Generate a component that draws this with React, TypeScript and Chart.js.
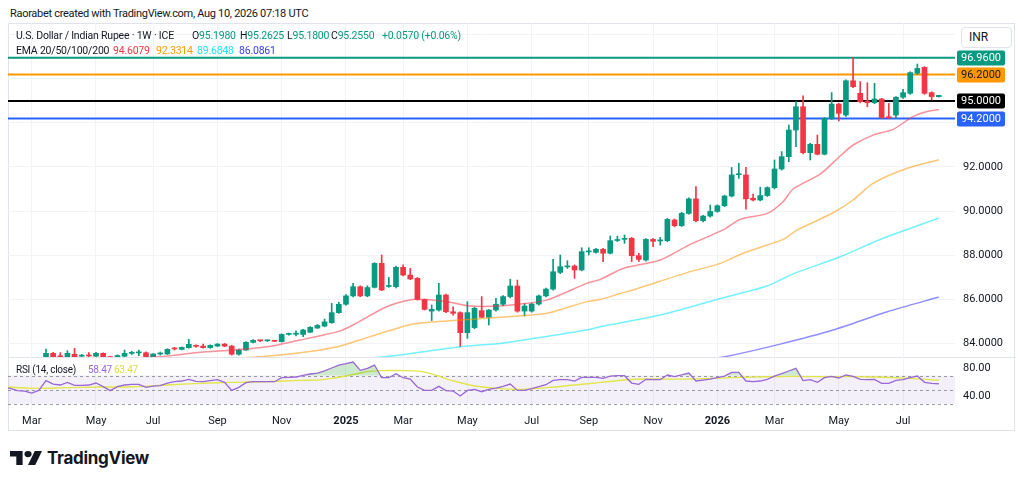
import React, { useEffect, useRef } from "react";
import { Chart, registerables } from "chart.js";

Chart.register(...registerables);

// ---------------- data ----------------
const START_DATE = "2024-02-05"; // first weekly bar (Monday)

const opens = [
  83.0, 82.98, 82.9, 82.88, 82.8, 82.75, 83.0, 83.53, 83.42, 83.37,
  83.49, 83.4, 83.43, 83.4, 83.53, 83.38, 83.28, 83.4, 83.53, 83.55,
  83.56, 83.38, 83.5, 83.5, 83.75, 83.71, 83.79, 83.87, 83.86, 83.79,
  83.86, 83.95, 83.86, 83.49, 83.68, 84.03, 84.11, 84.1, 84.1, 84.06,
  84.39, 84.4, 84.39, 84.49, 84.68, 84.77, 84.92, 85.38, 85.76, 86.14,
  86.56, 86.14, 86.53, 87.62, 86.57, 86.56, 87.44, 87.09, 86.94, 85.98,
  85.45, 85.5, 86.18, 85.42, 85.38, 84.47, 84.7, 85.47, 85.17, 85.5,
  85.76, 86.11, 86.59, 85.45, 85.45, 85.77, 86.14, 86.45, 87.21, 87.46,
  87.5, 87.32, 88.14, 88.12, 88.26, 88.08, 88.66, 88.71, 88.76, 87.97,
  87.77, 88.71, 88.64, 88.65, 89.59, 89.33, 89.89, 90.55, 89.56, 89.77,
  89.98, 90.24, 90.68, 91.65, 91.64, 90.58, 90.5, 90.7, 91.06, 91.91,
  92.47, 93.68, 94.74, 92.65, 93.03, 92.58, 94.21, 94.86, 94.36, 95.92,
  95.35, 95.0, 94.92, 95.09, 94.28, 94.36, 95.17, 95.35, 96.26, 96.53,
  95.38, 95.198,
];
const highs = [
  83.1, 83.05, 83.0, 82.95, 82.95, 83.05, 83.72, 83.58, 83.56, 83.65,
  83.76, 83.48, 83.56, 83.58, 83.55, 83.4, 83.46, 83.68, 83.62, 83.68,
  83.6, 83.52, 83.59, 83.74, 83.8, 83.82, 84.17, 83.92, 83.95, 83.92,
  83.98, 83.98, 83.9, 83.72, 84.06, 84.16, 84.13, 84.14, 84.12, 84.42,
  84.45, 84.55, 84.62, 84.75, 84.84, 85.09, 85.8, 85.85, 86.2, 86.71,
  86.6, 86.6, 87.65, 88.0, 86.98, 87.5, 87.55, 87.39, 86.98, 86.0,
  85.73, 86.71, 86.22, 85.65, 85.42, 85.88, 85.62, 86.11, 85.52, 86.03,
  86.15, 86.9, 86.86, 85.8, 85.82, 86.18, 86.5, 87.8, 88.0, 87.74,
  87.55, 88.33, 88.33, 88.3, 88.3, 88.86, 88.86, 88.91, 88.8, 88.08,
  88.75, 88.75, 88.8, 89.66, 89.64, 89.94, 90.6, 91.11, 89.8, 90.27,
  90.28, 90.72, 91.98, 92.17, 91.98, 90.77, 91.08, 91.1, 92.32, 92.7,
  93.91, 94.97, 95.23, 93.08, 93.45, 94.25, 95.38, 94.9, 95.96, 96.98,
  95.88, 95.83, 95.8, 95.12, 94.89, 95.2, 95.53, 96.33, 96.68, 96.56,
  95.42, 95.2625,
];
const lows = [
  82.9, 82.85, 82.78, 82.75, 82.7, 82.7, 82.95, 83.3, 83.3, 83.3,
  83.3, 83.35, 83.35, 83.35, 83.3, 83.2, 83.25, 83.35, 83.48, 83.42,
  83.35, 83.35, 83.45, 83.48, 83.68, 83.69, 83.77, 83.8, 83.76, 83.76,
  83.84, 83.83, 83.45, 83.45, 83.66, 84.0, 84.06, 84.07, 84.06, 84.04,
  84.36, 84.32, 84.29, 84.47, 84.66, 84.74, 84.9, 85.35, 85.72, 86.1,
  86.1, 86.1, 86.5, 86.38, 86.53, 86.5, 87.05, 86.88, 85.95, 85.5,
  85.02, 85.45, 85.38, 85.27, 83.83, 84.21, 84.65, 85.15, 84.82, 85.45,
  85.7, 86.05, 85.4, 85.23, 85.4, 85.72, 86.1, 86.4, 87.15, 87.39,
  86.94, 87.28, 88.0, 88.08, 87.7, 88.05, 88.61, 88.53, 87.7, 87.7,
  87.72, 88.38, 88.45, 88.6, 89.28, 89.3, 89.85, 89.5, 89.5, 89.72,
  89.94, 90.2, 90.64, 91.48, 90.08, 90.46, 90.46, 90.66, 91.0, 91.86,
  92.24, 92.92, 92.6, 92.32, 92.55, 92.55, 94.15, 94.09, 94.3, 95.6,
  94.92, 94.74, 94.88, 94.2, 94.2, 94.2, 95.12, 95.3, 96.2, 95.3,
  95.05, 95.18,
];
const closes = [
  82.98, 82.9, 82.85, 82.8, 82.75, 82.95, 83.53, 83.35, 83.37, 83.53,
  83.38, 83.43, 83.41, 83.53, 83.38, 83.25, 83.43, 83.53, 83.56, 83.57,
  83.38, 83.5, 83.53, 83.71, 83.73, 83.8, 83.94, 83.85, 83.79, 83.89,
  83.95, 83.86, 83.49, 83.68, 84.03, 84.12, 84.1, 84.11, 84.08, 84.39,
  84.41, 84.42, 84.59, 84.71, 84.8, 84.96, 85.38, 85.76, 86.14, 86.56,
  86.14, 86.52, 87.62, 86.41, 86.59, 87.44, 87.09, 86.91, 85.98, 85.53,
  85.53, 86.18, 85.42, 85.35, 84.47, 85.38, 85.58, 85.17, 85.5, 85.76,
  86.11, 86.59, 85.45, 85.68, 85.77, 86.14, 86.45, 87.24, 87.47, 87.48,
  87.32, 88.15, 88.16, 88.26, 88.08, 88.65, 88.68, 88.73, 87.97, 87.8,
  88.71, 88.62, 88.66, 89.62, 89.33, 89.89, 90.55, 89.56, 89.77, 89.98,
  90.24, 90.68, 91.64, 91.67, 90.55, 90.5, 90.7, 91.06, 91.91, 92.47,
  93.68, 94.74, 92.65, 93.03, 92.58, 94.21, 94.86, 94.44, 95.92, 95.65,
  94.97, 94.92, 95.09, 94.24, 94.24, 95.17, 95.38, 96.29, 96.48, 95.35,
  95.2, 95.255,
];

// EMA readings: [week index, value]
const ema20 = [
  [15, 83.28], [22, 83.38], [27.6, 83.58], [32.2, 83.68], [37, 83.83], [41.6, 84.14],
  [44.4, 84.33], [47.2, 84.55], [49, 84.82], [53.7, 85.65], [57.4, 85.98], [62.1, 85.88],
  [65.4, 85.68], [69.6, 85.68], [72.4, 85.77], [76.1, 85.95], [81.7, 86.71], [83.6, 86.89],
  [86.8, 87.39], [92, 87.77], [96.2, 88.48], [100.8, 89.14], [103.2, 89.62], [107, 89.89],
  [109.2, 90.42], [110.6, 91.0], [114.4, 91.68], [117.2, 92.5], [119, 93.0], [121.8, 93.45],
  [124.6, 93.71], [127.4, 94.29], [129.4, 94.52], [131, 94.61],
];
const ema50 = [
  [30, 83.28], [36, 83.38], [41.6, 83.56], [44.4, 83.68], [47.2, 83.86], [51.4, 84.29],
  [57.4, 84.86], [63, 85.02], [69.6, 85.17], [76.1, 85.35], [81.7, 85.88], [83.6, 85.98],
  [86.4, 86.25], [88.2, 86.41], [95.75, 87.2], [100.4, 87.62], [103.6, 88.08], [109.2, 88.71],
  [111.2, 89.14], [116.2, 89.92], [119, 90.5], [121.8, 91.26], [126.6, 91.94], [131, 92.33],
];
const ema100 = [
  [50, 83.28], [54.4, 83.41], [64, 83.83], [69.6, 83.98], [74.2, 84.2], [81.7, 84.59],
  [83.6, 84.74], [92, 85.27], [99.95, 85.98], [106.95, 86.59], [110.6, 87.14], [117.2, 87.92],
  [123.2, 88.76], [131, 89.68],
];
const ema200 = [
  [98, 83.25], [101.1, 83.38], [108.8, 83.95], [116.2, 84.59], [123.8, 85.42], [131, 86.09],
];
const emaLast = [94.6079, 92.3314, 89.6848, 86.0861];

const rsiValues = [
  53.0, 51.9, 48.6, 48.1, 45.2, 49.0, 62.9, 58.1, 56.7, 60.5,
  56.2, 56.2, 56.7, 59.5, 54.3, 48.6, 54.3, 56.7, 57.6, 57.6,
  53.3, 55.2, 55.7, 59.5, 61.4, 62.4, 64.8, 61.9, 61.4, 62.9,
  64.3, 60.5, 49.0, 53.3, 60.0, 61.4, 61.4, 61.4, 61.4, 67.1,
  67.6, 68.1, 70.5, 72.4, 73.8, 77.0, 81.0, 85.2, 87.1, 89.5,
  77.6, 80.5, 85.2, 67.1, 67.1, 72.9, 67.1, 65.2, 53.8, 49.0,
  49.0, 54.8, 48.6, 48.1, 41.0, 49.0, 50.5, 47.1, 50.5, 52.4,
  54.8, 58.1, 49.0, 49.0, 51.4, 54.3, 57.1, 63.3, 64.3, 64.3,
  62.4, 67.6, 67.6, 67.6, 66.2, 69.5, 70.0, 70.0, 59.5, 57.6,
  64.8, 64.3, 64.3, 71.0, 68.6, 71.0, 73.8, 62.4, 63.8, 65.2,
  67.1, 69.5, 74.8, 74.8, 62.4, 61.4, 62.4, 64.8, 69.5, 72.9,
  76.7, 80.5, 62.9, 64.3, 60.5, 67.1, 69.0, 66.7, 71.0, 69.0,
  64.8, 64.3, 64.8, 59.0, 59.0, 63.3, 64.3, 67.1, 69.5, 60.5,
  59.0, 58.47,
];
const rsiMa = [
  [0, 54.3], [4.2, 51.9], [8.9, 52.9], [13.6, 53.8], [18.2, 54.3], [22.9, 56.7],
  [27.6, 59.0], [32.3, 60.5], [36.9, 61.4], [41.6, 63.3], [44.4, 64.0], [46.5, 67.0],
  [48, 69.5], [50.9, 75.7], [53, 77.3], [56, 77.3], [58.3, 76.5], [60.2, 71.9],
  [63.1, 62.4], [65.9, 55.7], [69.2, 51.9], [72.5, 50.5], [76.2, 52.9], [80, 56.7],
  [83.7, 60.5], [87.4, 64.3], [90.7, 65.2], [96.7, 65.2], [103.3, 67.6], [110.3, 69.0],
  [112.6, 68.6], [118.3, 68.6], [122, 68.1], [126.7, 66.2], [131, 63.47],
];
const rsiLevels = [70, 50, 30];

const levels = [96.96, 96.2, 95.0, 94.2];
const priceTicks = [84, 86, 88, 90, 92, 94, 96, 98];
const rsiTicks = [40, 80];

const monthTickDates = [
  "2024-03-04", "2024-05-06", "2024-07-01", "2024-09-02", "2024-11-04", "2025-01-06",
  "2025-03-03", "2025-05-05", "2025-07-07", "2025-09-01", "2025-11-03", "2026-01-05",
  "2026-03-02", "2026-05-04", "2026-07-06",
];
const monthTickLabels = [
  "Mar", "May", "Jul", "Sep", "Nov", "2025", "Mar", "May", "Jul", "Sep", "Nov", "2026",
  "Mar", "May", "Jul",
];

// ---------------- styling ----------------
const FONT = "Roboto, 'Noto Sans', sans-serif";
const TXT = "#131722";
const UP = "#089981";
const DOWN = "#f23645";
const GRID = "#f2f3f6";
const RSI_COLOR = "#9a67d4";
const MA_COLOR = "#e2e64a";
const levelColors = ["#089981", "#ff9800", "#000000", "#2962ff"];
const levelText = ["#ffffff", "#131722", "#ffffff", "#ffffff"];
const emaLineColors = [
  "rgba(242,54,69,0.55)",
  "rgba(255,152,0,0.55)",
  "rgba(0,229,255,0.55)",
  "rgba(50,50,255,0.55)",
];
const emaTextColors = ["#f23645", "#ff9800", "#20e3f5", "#3a3aff"];

const X_MIN = 0.68;
const X_MAX = 133.27;
const Y_MIN = 83.364;
const Y_MAX = 98.545;
const RSI_MIN = 21;
const RSI_MAX = 96.7;

const WEEK = 7 * 24 * 3600 * 1000;
const weekIndex = (d: string) =>
  Math.round((Date.parse(d) - Date.parse(START_DATE)) / WEEK);
const monthTickIdx = monthTickDates.map(weekIndex);
const labelFor = (v: number) => {
  const k = monthTickIdx.indexOf(Math.round(v));
  return k >= 0 ? monthTickLabels[k] : "";
};

const zeroPad = (s: any) => {
  s.paddingTop = 0;
  s.paddingBottom = 0;
  s.paddingLeft = 0;
  s.paddingRight = 0;
};

const levelLabelPlugin = {
  id: "levelLabels",
  afterDraw(chart: any) {
    const { ctx, chartArea, scales } = chart;
    ctx.save();
    levels.forEach((lv, k) => {
      const y = Math.round(scales.y.getPixelForValue(lv));
      const x = chartArea.right + 2;
      ctx.fillStyle = levelColors[k];
      ctx.beginPath();
      ctx.roundRect(x, y - 7.5, 48, 15, 2);
      ctx.fill();
      ctx.fillStyle = levelText[k];
      ctx.font = `11px ${FONT}`;
      ctx.textAlign = "center";
      ctx.textBaseline = "middle";
      ctx.fillText(lv.toFixed(4), x + 24, y + 0.5);
    });
    ctx.restore();
  },
};

const rsiBandPlugin = {
  id: "rsiBand",
  beforeDatasetsDraw(chart: any) {
    const { ctx, chartArea, scales } = chart;
    const y70 = scales.y.getPixelForValue(rsiLevels[0]);
    const y30 = scales.y.getPixelForValue(rsiLevels[2]);
    ctx.save();
    ctx.fillStyle = "rgba(126,87,194,0.09)";
    ctx.fillRect(chartArea.left, y70, chartArea.right - chartArea.left, y30 - y70);
    ctx.strokeStyle = "rgba(120,123,134,0.75)";
    ctx.lineWidth = 1;
    ctx.setLineDash([3, 3]);
    rsiLevels.forEach((lv) => {
      const y = Math.round(scales.y.getPixelForValue(lv)) + 0.5;
      ctx.beginPath();
      ctx.moveTo(chartArea.left, y);
      ctx.lineTo(chartArea.right, y);
      ctx.stroke();
    });
    ctx.restore();
  },
};

function mainConfig(): any {
  const idx = closes.map((_, i) => i);
  const col = idx.map((i) => (closes[i] >= opens[i] ? UP : DOWN));
  const emas = [ema20, ema50, ema100, ema200];
  return {
    type: "bar",
    data: {
      datasets: [
        ...emas.map((e, k) => ({
          type: "line",
          data: e.map(([x, y]) => ({ x, y })),
          borderColor: emaLineColors[k],
          borderWidth: 1.5,
          pointRadius: 0,
          pointHoverRadius: 0,
          tension: 0.25,
        })),
        {
          type: "bar",
          data: idx.map((i) => ({ x: i, y: [opens[i], closes[i]] })),
          backgroundColor: col,
          barThickness: 5,
          minBarLength: 1,
          grouped: false,
        },
        {
          type: "bar",
          data: idx.map((i) => ({ x: i, y: [lows[i], highs[i]] })),
          backgroundColor: col,
          barThickness: 1,
          grouped: false,
        },
        ...levels.map((lv, k) => ({
          type: "line",
          data: [
            { x: X_MIN, y: lv },
            { x: X_MAX, y: lv },
          ],
          borderColor: levelColors[k],
          borderWidth: 2,
          pointRadius: 0,
          pointHoverRadius: 0,
        })),
      ],
    },
    options: {
      responsive: false,
      animation: false,
      events: [],
      layout: { padding: 0, autoPadding: false },
      plugins: { legend: { display: false }, tooltip: { enabled: false } },
      scales: {
        x: {
          type: "linear",
          min: X_MIN,
          max: X_MAX,
          offset: false,
          grid: { color: GRID, drawTicks: false, offset: false },
          border: { display: false },
          ticks: { display: false },
          afterBuildTicks: (s: any) => {
            s.ticks = monthTickIdx.map((v) => ({ value: v }));
          },
          afterFit: (s: any) => {
            s.height = 0;
            zeroPad(s);
          },
        },
        y: {
          position: "right",
          min: Y_MIN,
          max: Y_MAX,
          grid: { color: GRID, drawTicks: false },
          border: { display: false },
          ticks: {
            color: TXT,
            padding: 8,
            font: { family: FONT, size: 11 },
            callback: (v: any) => (Number(v) <= 92 ? Number(v).toFixed(4) : ""),
          },
          afterBuildTicks: (s: any) => {
            s.ticks = priceTicks.map((v) => ({ value: v }));
          },
          afterFit: (s: any) => {
            s.width = 61;
            zeroPad(s);
          },
        },
      },
    },
    plugins: [levelLabelPlugin],
  };
}

function rsiConfig(): any {
  const idx = rsiValues.map((_, i) => i);
  return {
    type: "line",
    data: {
      datasets: [
        {
          data: idx.map((i) => ({ x: i, y: rsiValues[i] })),
          borderColor: RSI_COLOR,
          borderWidth: 1.3,
          pointRadius: 0,
          pointHoverRadius: 0,
          fill: {
            target: { value: 70 },
            above: "rgba(76,175,80,0.28)",
            below: "rgba(0,0,0,0)",
          },
        },
        {
          data: rsiMa.map(([x, y]) => ({ x, y })),
          borderColor: MA_COLOR,
          borderWidth: 1.4,
          pointRadius: 0,
          pointHoverRadius: 0,
          tension: 0.3,
          fill: false,
        },
      ],
    },
    options: {
      responsive: false,
      animation: false,
      events: [],
      layout: { padding: 0, autoPadding: false },
      plugins: { legend: { display: false }, tooltip: { enabled: false } },
      scales: {
        x: {
          type: "linear",
          min: X_MIN,
          max: X_MAX,
          grid: { color: GRID, drawTicks: false },
          border: { display: false },
          ticks: {
            color: TXT,
            padding: 5,
            autoSkip: false,
            maxRotation: 0,
            font: (c: any) => ({
              family: FONT,
              size: 11,
              weight: /^\d{4}$/.test(labelFor(c.tick ? c.tick.value : -1)) ? "bold" : "normal",
            }),
            callback: (v: any) => labelFor(Number(v)),
          },
          afterBuildTicks: (s: any) => {
            s.ticks = monthTickIdx.map((v) => ({ value: v }));
          },
          afterFit: (s: any) => {
            s.height = 22;
            zeroPad(s);
          },
        },
        y: {
          position: "right",
          min: RSI_MIN,
          max: RSI_MAX,
          grid: { display: false, drawTicks: false },
          border: { display: false },
          ticks: {
            color: TXT,
            padding: 8,
            font: { family: FONT, size: 11 },
            callback: (v: any) => Number(v).toFixed(2),
          },
          afterBuildTicks: (s: any) => {
            s.ticks = rsiTicks.map((v) => ({ value: v }));
          },
          afterFit: (s: any) => {
            s.width = 61;
            zeroPad(s);
          },
        },
      },
    },
    plugins: [rsiBandPlugin],
  };
}

const abs = (left: number, top: number, extra: any = {}): React.CSSProperties => ({
  position: "absolute",
  left,
  top,
  whiteSpace: "nowrap",
  ...extra,
});

export default function App() {
  const mainRef = useRef<HTMLCanvasElement>(null);
  const rsiRef = useRef<HTMLCanvasElement>(null);

  useEffect(() => {
    const main = new Chart(mainRef.current as HTMLCanvasElement, mainConfig());
    const rsi = new Chart(rsiRef.current as HTMLCanvasElement, rsiConfig());
    return () => {
      main.destroy();
      rsi.destroy();
    };
  }, []);

  const leg: React.CSSProperties = {
    fontSize: 10.5,
    letterSpacing: -0.2,
    lineHeight: "16px",
    color: TXT,
  };
  const rsiLeg: React.CSSProperties = { ...leg, fontSize: 10, letterSpacing: -0.25 };
  const last = rsiValues[rsiValues.length - 1];
  const lastMa = rsiMa[rsiMa.length - 1][1];

  return (
    <div
      style={{
        position: "absolute",
        left: 0,
        top: 0,
        width: 1024,
        height: 484,
        background: "#ffffff",
        fontFamily: FONT,
        color: TXT,
        overflow: "hidden",
      }}
    >
      <div style={abs(10, 5, { fontSize: 11, letterSpacing: -0.3, lineHeight: "17px" })}>
        Raorabet created with TradingView.com, Aug 10, 2026 07:18 UTC
      </div>

      {/* chart frame */}
      <div
        style={abs(8, 23, {
          width: 1007,
          height: 408,
          border: "1px solid #e0e3eb",
          boxSizing: "border-box",
        })}
      />
      <canvas ref={mainRef} width={1008} height={334} style={abs(8, 23)} />
      <div style={abs(8, 357, { width: 1008, height: 1, background: "#e0e3eb" })} />
      <canvas ref={rsiRef} width={1008} height={75} style={abs(8, 357)} />

      {/* legend */}
      <div style={abs(16, 28, leg)}>U.S. Dollar / Indian Rupee · 1W · ICE</div>
      <div style={abs(192, 28, leg)}>
        O<span style={{ color: UP }}>{opens[opens.length - 1].toFixed(4)}</span>
      </div>
      <div style={abs(240, 28, leg)}>
        H<span style={{ color: UP }}>{highs[highs.length - 1].toFixed(4)}</span>
      </div>
      <div style={abs(287, 28, leg)}>
        L<span style={{ color: UP }}>{lows[lows.length - 1].toFixed(4)}</span>
      </div>
      <div style={abs(331, 28, leg)}>
        C<span style={{ color: UP }}>{closes[closes.length - 1].toFixed(4)}</span>
      </div>
      <div style={abs(382, 28, { ...leg, color: UP })}>+0.0570 (+0.06%)</div>

      <div style={abs(16, 43, leg)}>EMA 20/50/100/200</div>
      {emaLast.map((v, k) => (
        <div key={k} style={abs([113, 156, 197, 239][k], 43, { ...leg, color: emaTextColors[k] })}>
          {v.toFixed(4)}
        </div>
      ))}

      <div style={abs(16, 362, rsiLeg)}>RSI (14, close)</div>
      <div style={abs(88, 362, { ...rsiLeg, color: RSI_COLOR })}>{last.toFixed(2)}</div>
      <div style={abs(114, 362, { ...rsiLeg, color: "#d9dd3a" })}>{lastMa.toFixed(2)}</div>

      {/* currency box */}
      <div
        style={abs(961, 27, {
          width: 51,
          height: 21,
          border: "1px solid #e0e3eb",
          borderRadius: 4,
          boxSizing: "border-box",
          background: "#fff",
          fontSize: 12,
          lineHeight: "19px",
          paddingLeft: 7,
        })}
      >
        INR
      </div>

      {/* TradingView logo */}
      <svg
        style={abs(10, 451)}
        width={32}
        height={14}
        viewBox="0 4 35.5 18"
        preserveAspectRatio="none"
      >
        <path d="M14 22H7V11H0V4h14v18zM28 22h-8l7.5-18h8L28 22z" fill="#131722" />
        <circle cx="20" cy="8" r="4" fill="#131722" />
      </svg>
      <div
        style={abs(47, 447, {
          fontFamily: "Inter, Roboto, sans-serif",
          fontWeight: 700,
          fontSize: 17,
          lineHeight: "22px",
          letterSpacing: -0.3,
        })}
      >
        TradingView
      </div>
    </div>
  );
}
